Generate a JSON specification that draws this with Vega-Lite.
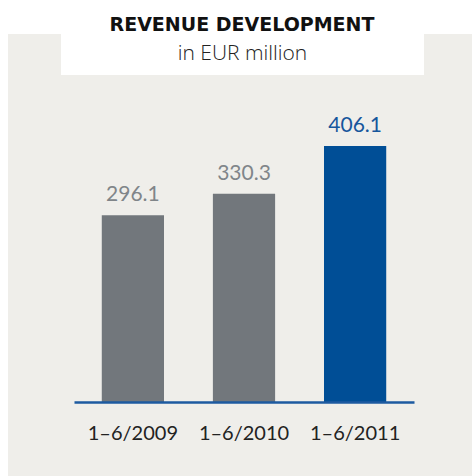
{
  "$schema": "https://vega.github.io/schema/vega-lite/v6.json",
  "background": "white",
  "padding": {"top": 16, "left": 8, "right": 0, "bottom": 0},
  "title": {
    "text": "REVENUE DEVELOPMENT",
    "fontSize": 19,
    "fontWeight": "bold",
    "font": "DejaVu Sans",
    "color": "#111111",
    "anchor": "middle",
    "offset": -1,
    "dx": 2
  },
  "spacing": 0,
  "vconcat": [
    {
      "spacing": 0,
      "hconcat": [
        {
          "width": 53,
          "height": 41,
          "view": {"fill": "#efeeea", "stroke": null},
          "data": {"values": [{"label": ""}]},
          "mark": {"type": "text"},
          "encoding": {"text": {"field": "label"}}
        },
        {
          "width": 363,
          "height": 41,
          "view": {"fill": "white", "stroke": null},
          "data": {"values": [{"label": "in EUR million"}]},
          "mark": {"type": "text", "fontSize": 21, "fontWeight": 300, "color": "#222222", "font": "Open Sans", "dy": -1},
          "encoding": {"text": {"field": "label"}}
        },
        {
          "width": 48,
          "height": 41,
          "view": {"fill": "#efeeea", "stroke": null},
          "data": {"values": [{"label": ""}]},
          "mark": {"type": "text"},
          "encoding": {"text": {"field": "label"}}
        }
      ]
    },
    {
      "width": 464,
      "height": 401,
      "view": {"fill": "#efeeea", "stroke": null},
      "data": {
        "values": [
          {"period": "1–6/2009", "revenue": 296.1},
          {"period": "1–6/2010", "revenue": 330.3},
          {"period": "1–6/2011", "revenue": 406.1}
        ]
      },
      "encoding": {
        "x": {
          "field": "period",
          "type": "nominal",
          "sort": null,
          "scale": {"range": [66, 406], "paddingInner": 0.44, "paddingOuter": 0.25},
          "axis": {
            "title": null,
            "orient": "bottom",
            "offset": -74,
            "labelAngle": 0,
            "ticks": false,
            "tickSize": 0,
            "domainColor": "#1d5aa0",
            "domainWidth": 2.5,
            "labelFont": "Lato",
            "labelFontSize": 20,
            "labelColor": "#222222",
            "labelPadding": 21,
            "zindex": 1
          }
        },
        "y": {
          "field": "revenue",
          "type": "quantitative",
          "scale": {"domain": [-117.4, 518.7], "nice": false},
          "axis": null
        }
      },
      "layer": [
        {
          "mark": {"type": "bar"},
          "encoding": {
            "y2": {"datum": 0},
            "color": {
              "field": "period",
              "type": "nominal",
              "sort": null,
              "scale": {"range": ["#72777c", "#72777c", "#004e96"]},
              "legend": null
            }
          }
        },
        {
          "mark": {"type": "text", "baseline": "alphabetic", "dy": -14, "fontSize": 21, "font": "Lato"},
          "encoding": {
            "text": {"field": "revenue", "type": "quantitative", "format": ".1f"},
            "color": {
              "field": "period",
              "type": "nominal",
              "sort": null,
              "scale": {"range": ["#808589", "#808589", "#16569c"]},
              "legend": null
            }
          }
        }
      ],
      "resolve": {"scale": {"color": "independent"}}
    }
  ],
  "config": {
    "font": "Lato",
    "view": {"fill": "#efeeea", "stroke": null}
  }
}
